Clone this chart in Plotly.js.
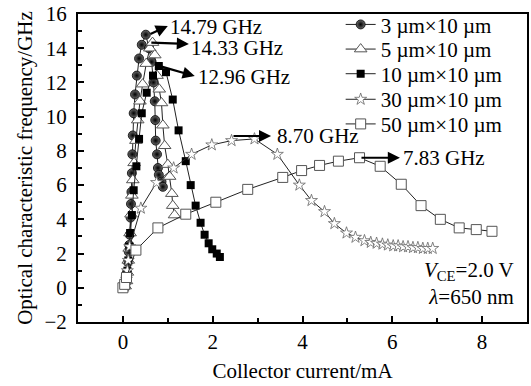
<!DOCTYPE html>
<html>
<head>
<meta charset="utf-8">
<script src="https://cdn.plot.ly/plotly-3.0.1.min.js"></script>
<style>html,body{margin:0;padding:0;background:#fff;}#chart{width:531px;height:386px;}</style>
</head>
<body>
<div id="chart"></div>
<script>
// Series names
const seriesNames = ["3 µm×10 µm", "5 µm×10 µm", "10 µm×10 µm", "30 µm×10 µm", "50 µm×10 µm"];

// 3 µm × 10 µm
const x3 = [0.04,0.07,0.09,0.11,0.13,0.14,0.15,0.17,0.18,0.19,0.2,0.21,0.22,0.24,0.27,0.31,0.36,0.42,0.51,0.58,0.64,0.68,0.71,0.72,0.73,0.76,0.78,0.8,0.86,0.89];
const y3 = [0.1,0.4,0.9,1.5,2.1,2.5,3.1,4.1,4.9,5.6,6.7,7.8,8.9,10.2,11.3,12.4,13.4,14.2,14.79,14.0,13.2,12.0,10.9,9.8,8.6,7.8,7.0,6.6,6.2,5.9];

// 5 µm × 10 µm
const x5 = [0.05,0.08,0.1,0.12,0.14,0.16,0.18,0.2,0.22,0.25,0.29,0.33,0.38,0.44,0.52,0.6,0.66,0.71,0.76,0.81,0.86,0.89,0.93,1.0,1.04,1.09,1.11,1.15];
const y5 = [0.1,0.4,0.9,1.6,2.3,3.2,4.3,5.4,6.3,7.3,8.6,9.8,10.9,11.9,13.1,14.0,14.33,13.6,12.4,11.6,10.8,9.5,8.3,7.2,6.5,5.5,4.8,4.25];

// 10 µm × 10 µm
const x10 = [0.05,0.08,0.1,0.12,0.14,0.16,0.2,0.24,0.3,0.36,0.42,0.53,0.67,0.8,0.96,1.11,1.24,1.4,1.51,1.62,1.73,1.82,1.91,1.99,2.09,2.16];
const y10 = [0.1,0.5,1.0,1.6,2.4,3.2,4.25,5.7,7.1,8.7,10.2,11.4,12.4,12.96,12.6,11.0,9.2,7.4,6.0,4.8,3.8,3.1,2.6,2.25,2.0,1.8];

// 30 µm × 10 µm
const x30 = [0.05,0.08,0.1,0.12,0.15,0.4,0.75,1.13,1.53,1.98,2.42,2.93,3.44,3.93,4.2,4.49,4.71,4.98,5.18,5.38,5.52,5.65,5.78,5.9,6.02,6.13,6.24,6.35,6.46,6.57,6.68,6.79,6.9];
const y30 = [0.1,0.5,1.0,1.6,2.4,4.65,6.15,7.0,7.8,8.35,8.6,8.70,7.8,6.0,5.1,4.45,3.75,3.2,2.95,2.75,2.65,2.6,2.55,2.5,2.45,2.45,2.4,2.4,2.35,2.35,2.3,2.3,2.3];

// 50 µm × 10 µm
const x50 = [0.0,0.04,0.08,0.29,0.78,1.4,2.07,2.78,3.56,3.98,4.38,4.8,5.27,5.73,6.2,6.64,7.07,7.49,7.87,8.22];
const y50 = [0.0,0.2,0.6,2.2,3.5,4.3,5.0,5.75,6.45,6.85,7.15,7.4,7.6,7.1,6.05,4.8,4.0,3.5,3.4,3.3];

// Peak labels
const peakLabels = ["14.79 GHz", "14.33 GHz", "12.96 GHz", "8.70 GHz", "7.83 GHz"];
const xTickVals = [0,2,4,6,8];
const yTickVals = [-2,0,2,4,6,8,10,12,14,16];

const FONT = "Liberation Serif, Times New Roman, serif";
const lineStyle = {color:'#222', width:1};
const legendIds = ['legend','legend2','legend3','legend4','legend5'];

const traces = [
  {x:x3, y:y3, name:seriesNames[0], mode:'lines+markers', line:lineStyle,
   marker:{symbol:'circle', size:9, color:'#6a6a6a', gradient:{type:'radial', color:'#000'}, line:{color:'#000', width:0.8}}},
  {x:x5, y:y5, name:seriesNames[1], mode:'lines+markers', line:lineStyle,
   marker:{symbol:'triangle-up', size:11, color:'#fff', line:{color:'#555', width:1}}},
  {x:x10, y:y10, name:seriesNames[2], mode:'lines+markers', line:lineStyle,
   marker:{symbol:'square', size:8, color:'#000', line:{color:'#000', width:0}}},
  {x:x30, y:y30, name:seriesNames[3], mode:'lines+markers', line:lineStyle,
   marker:{symbol:'star', size:9, color:'#fff', line:{color:'#666', width:0.8}}},
  {x:x50, y:y50, name:seriesNames[4], mode:'lines+markers', line:lineStyle,
   marker:{symbol:'square', size:10, color:'#fff', line:{color:'#555', width:1}}}
].map((t,i) => Object.assign({type:'scatter', cliponaxis:false, legend:legendIds[i]}, t));

function arrow(x, y, ax, ay){
  return {x:x, y:y, ax:ax, ay:ay, xref:'x', yref:'y', axref:'x', ayref:'y', text:'',
          showarrow:true, arrowhead:2, arrowsize:1.1, arrowwidth:2.2, arrowcolor:'#000', standoff:0, startstandoff:0};
}
function label(x, y, t){
  return {x:x, y:y, xref:'x', yref:'y', text:t, showarrow:false, xanchor:'left', yanchor:'middle', borderpad:0,
          font:{family:FONT, size:21, color:'#000'}};
}

const annotations = [
  arrow(1.0,15.3,0.58,14.79), label(1.03,15.25,peakLabels[0]),
  arrow(1.47,14.25,0.60,14.33), label(1.5,14.04,peakLabels[1]),
  arrow(1.6,12.37,0.83,12.95), label(1.65,12.31,peakLabels[2]),
  arrow(3.3,8.87,2.43,8.87), label(3.42,8.87,peakLabels[3]),
  arrow(6.17,7.6,5.28,7.6), label(6.22,7.6,peakLabels[4]),
  {x:0.975, y:0.035, xref:'paper', yref:'paper', xanchor:'right', yanchor:'bottom', align:'right', showarrow:false,
   text:'<i>V</i><sub>CE</sub>=2.0 V<br><i>λ</i>=650 nm', font:{family:FONT, size:21, color:'#000'}}
];

const legendRowsY = [0.965, 0.885, 0.805, 0.722, 0.642];
function legendAt(yy){
  return {x:0.585, xanchor:'left', y:yy, yanchor:'middle', bgcolor:'rgba(0,0,0,0)', borderwidth:0,
          font:{family:FONT, size:21, color:'#000'}, itemwidth:30};
}

const layout = {
  width:531, height:386,
  margin:{l:78, r:4, t:9, b:64},
  paper_bgcolor:'#fff', plot_bgcolor:'#fff',
  font:{family:FONT, size:21, color:'#000'},
  showlegend:true,
  legend:legendAt(legendRowsY[0]),
  legend2:legendAt(legendRowsY[1]),
  legend3:legendAt(legendRowsY[2]),
  legend4:legendAt(legendRowsY[3]),
  legend5:legendAt(legendRowsY[4]),
  xaxis:{range:[-1,9], tickvals:xTickVals, ticks:'inside', ticklen:6, tickwidth:2, tickcolor:'#000',
         minor:{dtick:1, tick0:1, ticks:'inside', ticklen:4, tickwidth:2, tickcolor:'#000'},
         showline:true, linewidth:2, linecolor:'#000', mirror:true, showgrid:false, zeroline:false,
         tickfont:{family:FONT, size:21}, ticklabeloverflow:'allow',
         title:{text:'Collector current/mA', font:{family:FONT, size:21}, standoff:10}},
  yaxis:{range:[-2,16], tickvals:yTickVals, ticks:'inside', ticklen:6, tickwidth:2, tickcolor:'#000',
         minor:{dtick:1, tick0:-1, ticks:'inside', ticklen:4, tickwidth:2, tickcolor:'#000'},
         showline:true, linewidth:2, linecolor:'#000', mirror:true, showgrid:false, zeroline:false,
         tickfont:{family:FONT, size:21}, ticklabeloverflow:'allow', ticklabelstandoff:5,
         title:{text:'Optical characteristic frequency/GHz', font:{family:FONT, size:21}, standoff:6}},
  annotations:annotations
};

Plotly.newPlot('chart', traces, layout, {displayModeBar:false, staticPlot:true});
</script>
</body>
</html>
